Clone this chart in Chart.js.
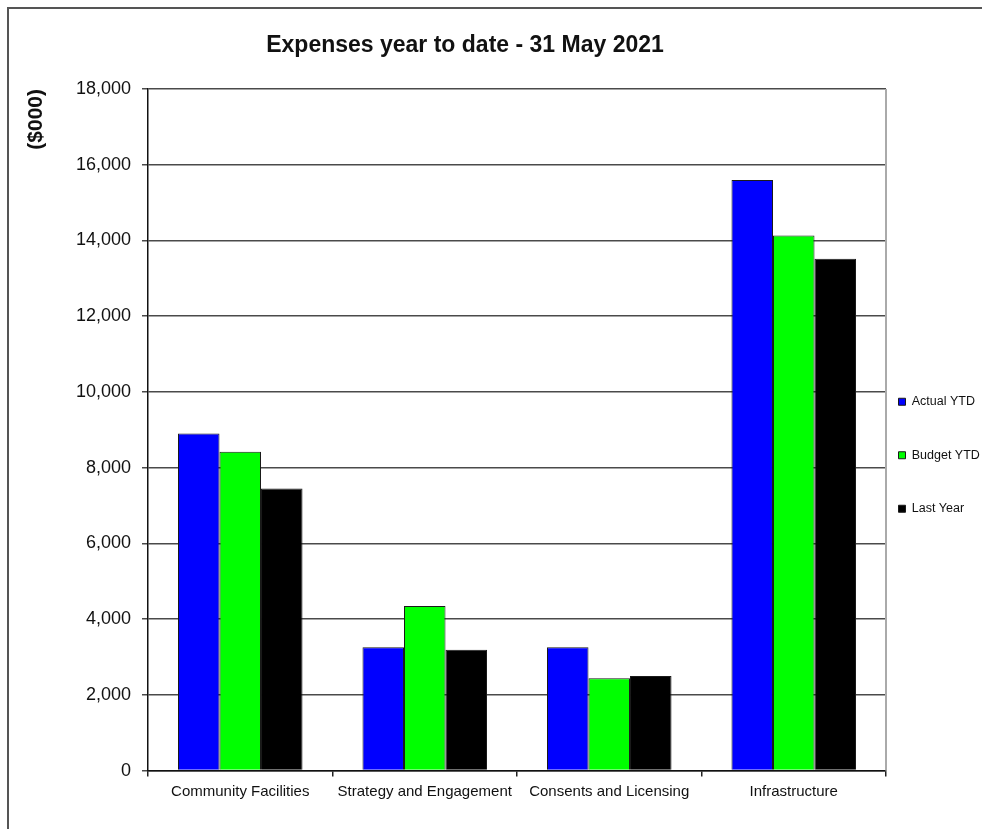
<!DOCTYPE html>
<html>
<head>
<meta charset="utf-8">
<script src="https://cdn.jsdelivr.net/npm/chart.js@4.4.1/dist/chart.umd.min.js"></script>
<style>
  html, body { margin: 0; padding: 0; background: #fff; overflow: hidden; }
  #wrap { position: relative; width: 982px; height: 829px; }
  #frame { position: absolute; left: 7px; top: 7px; width: 1000px; height: 900px;
           border-left: 2px solid #555; border-top: 2px solid #555; pointer-events: none; }
  canvas { position: absolute; left: 0; top: 0; }
</style>
</head>
<body>
<div id="wrap">
  <canvas id="c" width="982" height="829"></canvas>
  <div id="frame"></div>
</div>
<script>
const chartTitle = 'Expenses year to date - 31 May 2021';
const yAxisTitle = '($000)';
const categories = ['Community Facilities', 'Strategy and Engagement', 'Consents and Licensing', 'Infrastructure'];
const seriesNames = ['Actual YTD', 'Budget YTD', 'Last Year'];
const actualYTD = [8900, 3260, 3260, 15600];
const budgetYTD = [8420, 4350, 2440, 14130];
const lastYear = [7450, 3190, 2500, 13520];
const yTicks = [0, 2000, 4000, 6000, 8000, 10000, 12000, 14000, 16000, 18000];

const FONT = '"Liberation Sans", Arial, sans-serif';
const TEXT = '#111111';

const titlePlugin = {
  id: 'titleText',
  afterDraw(chart) {
    const ctx = chart.ctx;
    ctx.save();
    ctx.font = 'bold 23px ' + FONT;
    ctx.fillStyle = TEXT;
    ctx.textAlign = 'center';
    ctx.textBaseline = 'middle';
    ctx.fillText(chartTitle, 465, 46);
    ctx.restore();
  }
};

const rightBorderPlugin = {
  id: 'rightBorder',
  beforeDatasetsDraw(chart) {
    const {ctx, chartArea} = chart;
    ctx.save();
    ctx.strokeStyle = '#aaaaaa';
    ctx.lineWidth = 2;
    ctx.beginPath();
    ctx.moveTo(chartArea.right, chartArea.top);
    ctx.lineTo(chartArea.right, chartArea.bottom);
    ctx.stroke();
    ctx.restore();
  }
};

const colors = ['#0000ff', '#00ff00', '#000000'];
const values = [actualYTD, budgetYTD, lastYear];

new Chart(document.getElementById('c'), {
  type: 'bar',
  data: {
    labels: categories,
    datasets: seriesNames.map((name, i) => ({
      label: name,
      data: values[i],
      backgroundColor: colors[i],
      borderColor: '#1a1a1a',
      borderWidth: 1,
      categoryPercentage: 0.675,
      barPercentage: 1.0
    }))
  },
  options: {
    responsive: false,
    animation: false,
    devicePixelRatio: 1,
    layout: { padding: { top: 89, bottom: 0, left: 0, right: 0 } },
    plugins: {
      title: { display: false },
      tooltip: { enabled: false },
      legend: {
        position: 'right',
        align: 'start',
        fullSize: false,
        maxWidth: 96,
        title: { display: true, text: '', padding: { top: 279.6, bottom: 0 }, font: { size: 12 } },
        labels: {
          boxWidth: 7,
          boxHeight: 7,
          padding: 12.5,
          color: TEXT,
          font: { family: FONT, size: 12.5, lineHeight: '41px' },
          generateLabels(chart) {
            const items = Chart.defaults.plugins.legend.labels.generateLabels(chart);
            items.forEach(it => { it.text = [it.text]; });
            return items;
          }
        }
      }
    },
    scales: {
      x: {
        afterFit(scale) { scale.height = 58.4; },
        grid: { display: true, drawOnChartArea: false, drawTicks: true, tickLength: 6, color: '#222', lineWidth: 1.5, offset: true },
        border: { display: true, color: '#111', width: 1.5 },
        ticks: { color: TEXT, font: { family: FONT, size: 15 }, padding: 6, maxRotation: 0, autoSkip: false }
      },
      y: {
        min: 0,
        max: 18000,
        afterFit(scale) { scale.width = 148; },
        afterBuildTicks(scale) { scale.ticks = yTicks.map(v => ({ value: v })); },
        grid: { color: '#4a4a4a', lineWidth: 1.5, tickLength: 6, drawTicks: true },
        border: { display: true, color: '#111', width: 1.5 },
        ticks: {
          color: TEXT,
          font: { family: FONT, size: 18 },
          padding: 11,
          callback: v => v.toLocaleString('en-US')
        },
        title: {
          display: true,
          text: yAxisTitle,
          align: 'end',
          color: TEXT,
          font: { family: FONT, size: 21, weight: 'bold' },
          padding: { top: 24, bottom: 10 }
        }
      }
    }
  },
  plugins: [titlePlugin, rightBorderPlugin]
});
</script>
</body>
</html>
